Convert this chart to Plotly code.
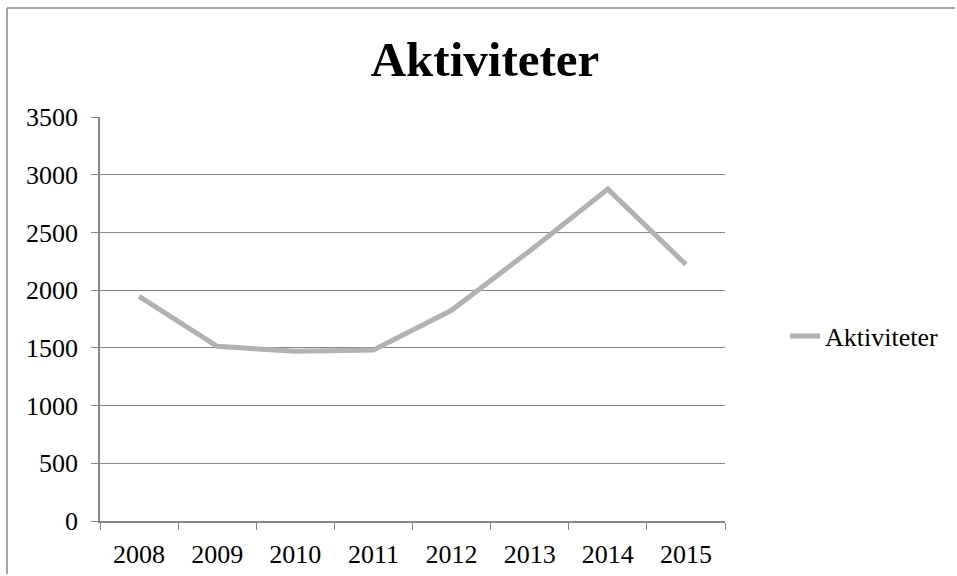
import plotly.graph_objects as go

years = ["2008", "2009", "2010", "2011", "2012", "2013", "2014", "2015"]
aktiviteter = [1946, 1513, 1470, 1482, 1825, 2340, 2875, 2222]
y_ticks = [0, 500, 1000, 1500, 2000, 2500, 3000, 3500]
series_name = "Aktiviteter"
title_text = "Aktiviteter"

W, H = 957, 576
L, R, T, B = 100, 232, 117, 55
pw, ph = W - L - R, H - T - B

def px_x(p):
    return (p - L) / pw

def px_y(p):
    return (H - B - p) / ph

FONT = "Liberation Serif, Times New Roman, serif"
AXIS = "#868686"

fig = go.Figure()
fig.add_trace(go.Scatter(
    x=years, y=aktiviteter, mode="lines", name=series_name,
    line=dict(color="#B2B2B2", width=5),
))

border = dict(color=AXIS, width=1.5)
fig.update_layout(
    width=W, height=H,
    margin=dict(l=L, r=R, t=T, b=B, autoexpand=False),
    paper_bgcolor="white", plot_bgcolor="white",
    font=dict(family=FONT, size=26, color="black"),
    title=dict(text="<b>" + title_text + "</b>", font=dict(size=49, family=FONT),
               x=485 / W, xanchor="center", xref="container",
               y=1 - 59 / H, yanchor="middle", yref="container"),
    showlegend=True,
    legend=dict(x=px_x(785), xanchor="left", y=px_y(336), yanchor="middle",
                font=dict(size=26, family=FONT), bgcolor="rgba(0,0,0,0)"),
    xaxis=dict(type="category", range=[-0.5, 7.5], showgrid=False, automargin=False,
               showline=True, linecolor=AXIS, linewidth=1.5,
               ticks="outside", tickson="boundaries", ticklen=7, tickcolor=AXIS,
               ticklabelstandoff=9, zeroline=False),
    yaxis=dict(range=[0, 3500], tickvals=y_ticks, showgrid=True, gridcolor=AXIS,
               gridwidth=1, showline=True, linecolor=AXIS, linewidth=1.5, automargin=False,
               ticks="outside", ticklen=7, tickcolor=AXIS, zeroline=False,
               ticklabelstandoff=8),
    shapes=[
        dict(type="line", xref="paper", yref="paper",
             x0=px_x(7), x1=px_x(W - 2), y0=px_y(8), y1=px_y(8), line=border, layer="below"),
        dict(type="line", xref="paper", yref="paper",
             x0=px_x(7), x1=px_x(7), y0=px_y(8), y1=px_y(H - 2), line=border, layer="below"),
    ],
)

fig.write_html("out.html", config={"displayModeBar": False},
               post_script=("document.body.style.margin='0';"
                            "document.body.style.overflow='hidden';"
                            "document.documentElement.style.overflow='hidden';"))
